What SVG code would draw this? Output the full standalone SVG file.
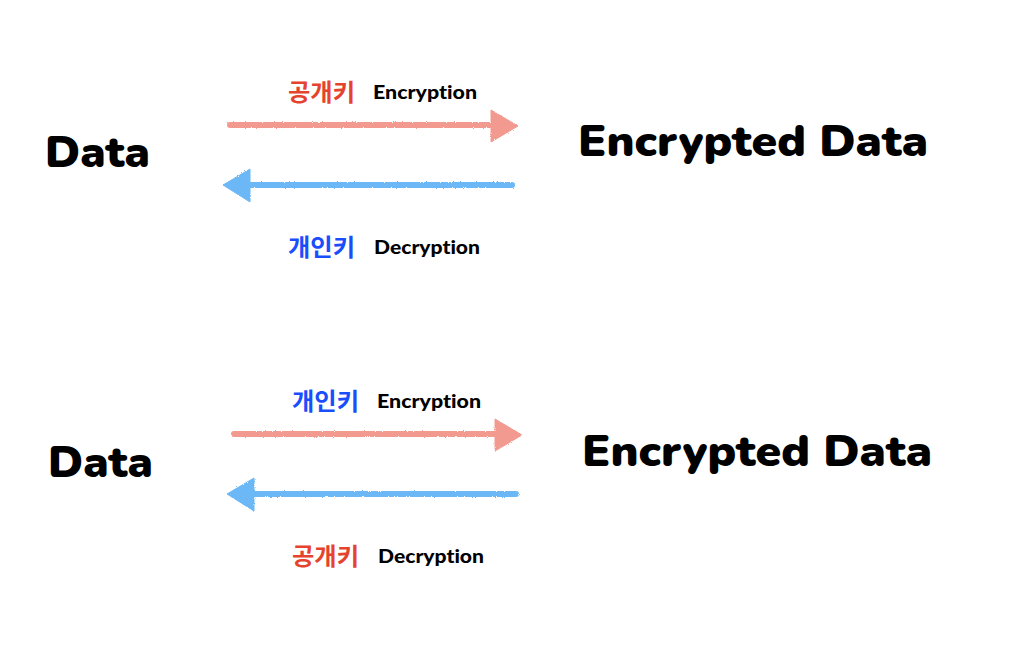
<svg xmlns="http://www.w3.org/2000/svg" width="1028" height="652" viewBox="0 0 1028 652">
<style>
text{font-variant-ligatures:none}
.big{font-family:"Nunito","Lato","Noto Sans",sans-serif;font-weight:900;font-size:43px;fill:#000}
.small{font-family:"Lato","Noto Sans",sans-serif;font-weight:900;font-size:18px;fill:#000}
.ko{font-family:"Noto Sans CJK KR",sans-serif;font-weight:700;font-size:24px}
.pub{fill:#e5432d}
.priv{fill:#1a4dfb}
.red{stroke:#f29a90;fill:#f29a90}
.blue{stroke:#6cb8f6;fill:#6cb8f6}
.shaft{stroke-width:6;stroke-linecap:round;fill:none}
</style>
<defs>
<filter id="rough" x="-5%" y="-50%" width="110%" height="200%">
<feTurbulence type="fractalNoise" baseFrequency="0.9" numOctaves="2" seed="3"/>
<feDisplacementMap in="SourceGraphic" scale="2.5"/>
</filter>
</defs>
<rect width="1028" height="652" fill="#fff"/>
<g id="connectors" filter="url(#rough)">
<g class="red"><line class="shaft" x1="230" y1="125" x2="495" y2="125"/><polygon points="491,110 518,126 491,142"/></g>
<g class="blue"><line class="shaft" x1="512" y1="185" x2="245" y2="185"/><polygon points="250,169 223,185 250,202"/></g>
<g class="red"><line class="shaft" x1="234" y1="434" x2="499" y2="434"/><polygon points="495,419 522,435 495,451"/></g>
<g class="blue"><line class="shaft" x1="516" y1="494" x2="249" y2="494"/><polygon points="254,478 227,494 254,511"/></g>
</g>
<g id="data1"><text class="big" x="45" y="167" textLength="105" lengthAdjust="spacingAndGlyphs">Data</text></g>
<g id="enc1"><text class="big" x="578" y="156" textLength="350" lengthAdjust="spacingAndGlyphs">Encrypted Data</text></g>
<g id="label1"><text class="ko pub" x="288" y="101" textLength="67" lengthAdjust="spacingAndGlyphs">공개키</text><text class="small" x="373" y="99" textLength="104" lengthAdjust="spacingAndGlyphs">Encryption</text></g>
<g id="label2"><text class="ko priv" x="288" y="256" textLength="67" lengthAdjust="spacingAndGlyphs">개인키</text><text class="small" x="374" y="254" textLength="106" lengthAdjust="spacingAndGlyphs">Decryption</text></g>
<g id="data2"><text class="big" x="48" y="477" textLength="105" lengthAdjust="spacingAndGlyphs">Data</text></g>
<g id="enc2"><text class="big" x="582" y="466" textLength="350" lengthAdjust="spacingAndGlyphs">Encrypted Data</text></g>
<g id="label3"><text class="ko priv" x="292" y="410" textLength="67" lengthAdjust="spacingAndGlyphs">개인키</text><text class="small" x="377" y="408" textLength="104" lengthAdjust="spacingAndGlyphs">Encryption</text></g>
<g id="label4"><text class="ko pub" x="292" y="565" textLength="67" lengthAdjust="spacingAndGlyphs">공개키</text><text class="small" x="378" y="563" textLength="106" lengthAdjust="spacingAndGlyphs">Decryption</text></g>
</svg>
